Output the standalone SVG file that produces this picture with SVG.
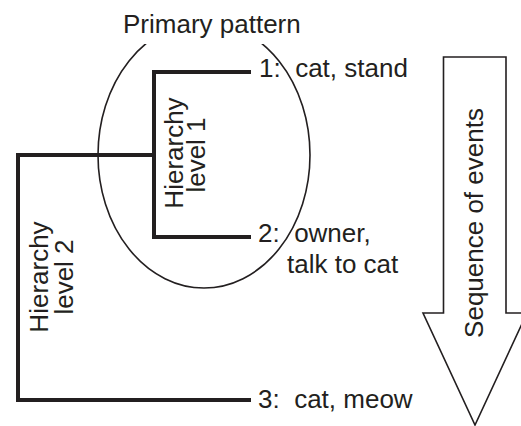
<svg xmlns="http://www.w3.org/2000/svg" width="521" height="426" viewBox="0 0 521 426">
<style>
text { font-family: "Liberation Sans", Arial, sans-serif; font-size: 26px; fill: #231f20; white-space: pre; }
.tree { fill: none; stroke: #231f20; stroke-width: 4; stroke-linecap: butt; stroke-linejoin: miter; }
.thin { fill: none; stroke: #231f20; stroke-width: 1.6; }
</style>
<rect width="521" height="426" fill="#ffffff"/>
<g id="primary-pattern">
  <ellipse class="thin" cx="204" cy="155" rx="106" ry="133"/>
  <rect x="116" y="4" width="200" height="40" fill="#ffffff"/>
  <text x="123" y="33">Primary pattern</text>
</g>
<g id="connectors">
  <polyline class="tree" points="251,72 154,72 154,237 251,237"/>
  <polyline class="tree" points="154,155 18,155 18,400 251,400"/>
</g>
<g id="level1">
  <text transform="translate(183,153) rotate(-90)" text-anchor="middle">Hierarchy</text>
  <text transform="translate(205,155) rotate(-90)" text-anchor="middle">level 1</text>
</g>
<g id="level2">
  <text transform="translate(48,277) rotate(-90)" text-anchor="middle">Hierarchy</text>
  <text transform="translate(73,277) rotate(-90)" text-anchor="middle">level 2</text>
</g>
<g id="event1"><text x="259" y="77">1:  cat, stand</text></g>
<g id="event2"><text x="258" y="242">2:  owner,</text><text x="287" y="273">talk to cat</text></g>
<g id="event3"><text x="258" y="408">3:  cat, meow</text></g>
<g id="sequence-arrow">
  <polygon class="thin" stroke-width="2" points="443.5,57 506,57 506,313 527,313 475,425 423,313 443.5,313"/>
  <text transform="translate(483,223) rotate(-90)" text-anchor="middle">Sequence of events</text>
</g>
</svg>
